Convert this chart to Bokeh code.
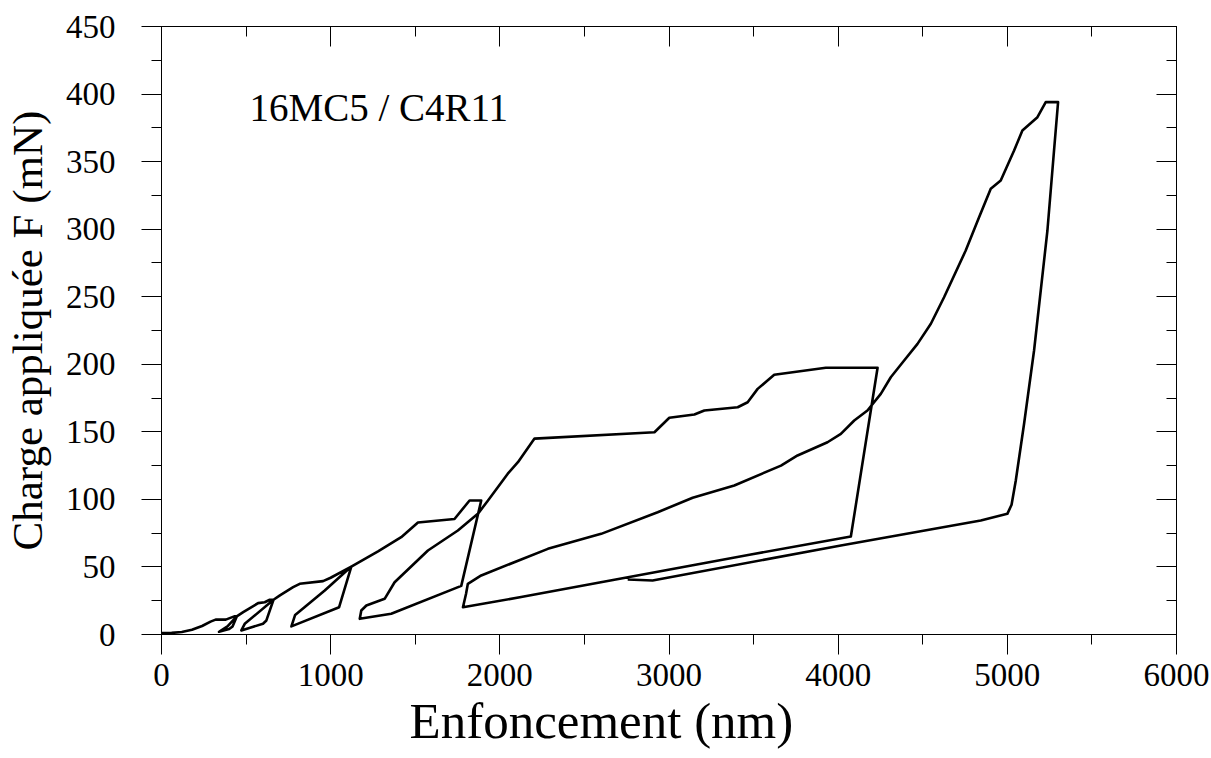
from bokeh.plotting import figure
from bokeh.models import LinearAxis, Range1d, Label, SingleIntervalTicker, CustomJSTickFormatter, Title
from bokeh.embed import file_html
from bokeh.resources import INLINE

# Cyclic indentation curve: load up to each peak, then unload to a minimum
load1_x = [0, 60, 120, 180, 240, 290, 320, 380, 430, 445]
load1_y = [1.0, 1.2, 1.8, 3.5, 6.3, 9.5, 11.0, 11.0, 13.4, 13.4]
unload1_x = [420, 400, 340]
unload1_y = [6.0, 4.0, 2.0]

load2_x = [390, 445, 483, 571, 610, 640, 662]
load2_y = [6.0, 13.4, 16.5, 23.2, 23.9, 25.7, 25.7]
unload2_x = [620, 600, 472]
unload2_y = [10.4, 8.0, 3.0]

load3_x = [492, 662, 700, 778, 817, 955, 1000, 1122]
load3_y = [7.9, 25.7, 29.0, 35.0, 37.5, 39.5, 42.0, 50.3]
unload3_x = [1050, 768]
unload3_y = [20.2, 6.0]

load4_x = [790, 965, 1122, 1280, 1417, 1516, 1732, 1821, 1890]
load4_y = [14.5, 32.6, 50.3, 61.6, 72.0, 82.9, 85.5, 99.2, 99.2]
unload4_x = [1772, 1358, 1172]
unload4_y = [36.0, 15.3, 11.6]

load5_x = [1181, 1211, 1319, 1378, 1575, 1752, 1870, 1929, 2047, 2107, 2205,
           2914, 3002, 3150, 3209, 3406, 3465, 3524, 3622, 3927, 4233]
load5_y = [17.8, 21.5, 26.4, 38.7, 62.2, 77.0, 89.3, 99.0, 119.0, 127.5, 145.0,
           149.7, 160.4, 162.8, 165.8, 168.2, 171.9, 181.8, 192.2, 197.4, 197.4]
unload5_x = [4075, 3484, 2126, 1782]
unload5_y = [72.5, 59.2, 27.7, 20.2]

load6_x = [1800, 1811, 1890, 2284, 2599, 2933, 3140, 3386, 3662, 3760, 3937,
           4016, 4095, 4173, 4252, 4311, 4390, 4469, 4548, 4626, 4754, 4833,
           4902, 4961, 5040, 5089, 5178, 5227, 5300]
load6_y = [30.0, 37.5, 43.7, 63.4, 74.5, 90.5, 101.2, 110.3, 125.0, 132.5, 142.3,
           148.5, 158.4, 165.8, 178.1, 190.4, 202.8, 215.1, 230.0, 249.6, 284.2, 308.8,
           329.9, 336.0, 358.2, 373.0, 382.9, 394.0, 394.0]
unload6_x = [5276, 5237, 5158, 5099, 5050, 5025, 5000, 4843, 4016, 2903, 2756]
unload6_y = [358.2, 299.0, 210.2, 156.0, 114.0, 96.0, 89.3, 84.4, 65.9, 40.0, 40.7]

xs = (load1_x + unload1_x + load2_x + unload2_x + load3_x + unload3_x +
      load4_x + unload4_x + load5_x + unload5_x + load6_x + unload6_x)
ys = (load1_y + unload1_y + load2_y + unload2_y + load3_y + unload3_y +
      load4_y + unload4_y + load5_y + unload5_y + load6_y + unload6_y)

FONT = "Liberation Serif"

p = figure(width=1211, height=758, x_range=Range1d(0, 6000), y_range=Range1d(0, 450),
           output_backend="svg", toolbar_location=None,
           min_border_left=160, min_border_right=35, min_border_top=26, min_border_bottom=124)
p.grid.visible = False
p.outline_line_color = "black"
p.background_fill_color = "white"
p.border_fill_color = "white"

p.line(xs, ys, line_color="black", line_width=2.6, line_join="round")

xt = SingleIntervalTicker(interval=1000, num_minor_ticks=2)
yt = SingleIntervalTicker(interval=50, num_minor_ticks=2)

for ax, tk in ((p.xaxis[0], xt), (p.yaxis[0], yt)):
    ax.ticker = tk
    ax.major_tick_out = 20
    ax.major_tick_in = 0
    ax.minor_tick_out = 10
    ax.minor_tick_in = 0
    ax.axis_line_color = "black"
    ax.major_tick_line_color = "black"
    ax.minor_tick_line_color = "black"
    ax.major_label_text_font = FONT
    ax.major_label_text_font_size = "33px"
    ax.major_label_text_color = "black"
    ax.axis_label_text_font = FONT
    ax.axis_label_text_font_size = "43px"
    ax.axis_label_text_font_style = "normal"
    ax.axis_label_text_color = "black"

p.yaxis[0].axis_label = "Charge appliquée F (mN)"
p.xaxis[0].major_label_standoff = 9
p.yaxis[0].major_label_standoff = 26
p.yaxis[0].axis_label_standoff = 12

blank = CustomJSTickFormatter(code="return '';")
top = LinearAxis(ticker=SingleIntervalTicker(interval=1000, num_minor_ticks=2), formatter=blank)
right = LinearAxis(ticker=SingleIntervalTicker(interval=50, num_minor_ticks=2), formatter=blank)
for ax in (top, right):
    ax.major_tick_in = 20
    ax.major_tick_out = 0
    ax.minor_tick_in = 10
    ax.minor_tick_out = 0
    ax.major_label_standoff = 0
    ax.axis_line_color = "black"
    ax.major_tick_line_color = "black"
    ax.minor_tick_line_color = "black"
p.add_layout(top, "above")
p.add_layout(right, "right")

# x-axis title, placed slightly left of centre as in the reference
xtitle = Title(text="Enfoncement (nm)", align="left", offset=248, standoff=4,
               text_font=FONT, text_font_size="51px", text_font_style="normal",
               text_color="black")
p.add_layout(xtitle, "below")

p.add_layout(Label(x=520, y=390, text="16MC5 / C4R11", text_font=FONT,
                   text_font_size="39px", text_color="black", text_baseline="middle"))

open("out.html", "w").write(file_html(p, INLINE))
